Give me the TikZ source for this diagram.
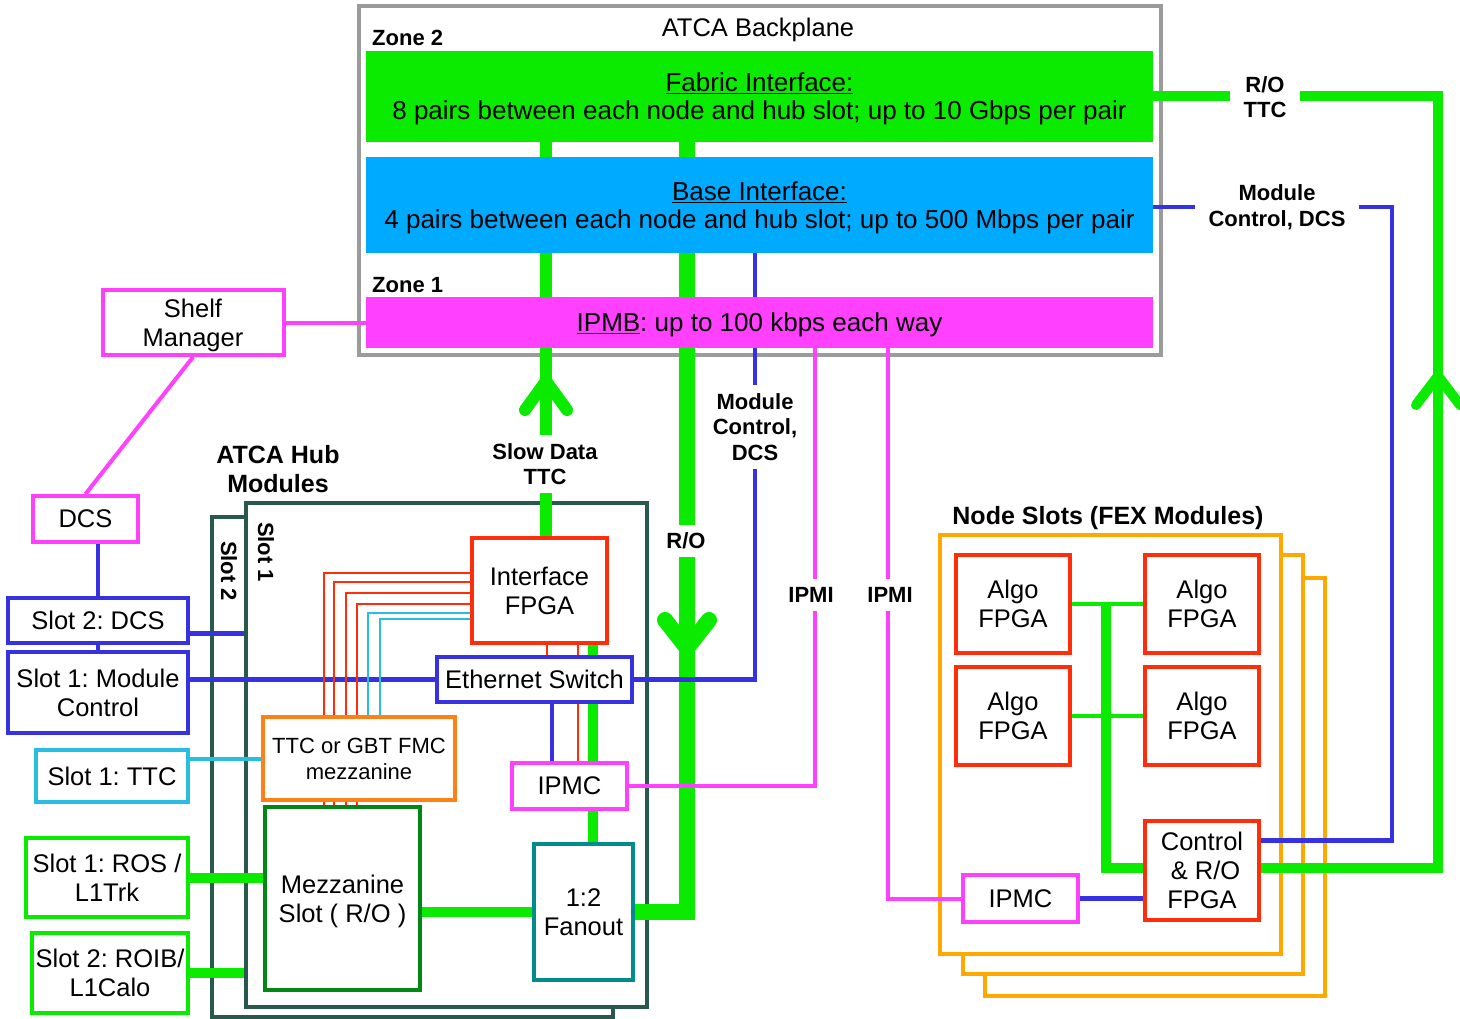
\documentclass[tikz,border=0pt]{standalone}
\usepackage{fontspec}
\setmainfont{Liberation Sans}
\usetikzlibrary{calc}
\pgfdeclarelayer{frames}
\pgfdeclarelayer{wires}
\pgfsetlayers{frames,wires,main}
\frenchspacing
\definecolor{cgreen}{RGB}{10,235,0}
\definecolor{cblue}{RGB}{55,50,225}
\definecolor{cmag}{RGB}{255,64,255}
\definecolor{cbase}{RGB}{0,170,255}
\definecolor{cred}{RGB}{255,45,10}
\definecolor{corange}{RGB}{255,128,20}
\definecolor{cnode}{RGB}{255,168,0}
\definecolor{ccyan}{RGB}{40,190,225}
\definecolor{cslot}{RGB}{40,88,78}
\definecolor{cmezz}{RGB}{0,135,20}
\definecolor{cfan}{RGB}{0,140,140}
\definecolor{cgray}{RGB}{155,155,155}
\newcommand\fReg{\fontsize{25.5}{29}\selectfont}
\newcommand\fBand{\fontsize{26}{28}\selectfont}
\newcommand\fSmall{\fontsize{22}{26}\selectfont}
\newcommand\fBold{\fontsize{25}{29}\selectfont\bfseries}
\newcommand\fBoldS{\fontsize{22}{25.5}\selectfont\bfseries}
\tikzset{
  bx/.style={draw, fill=white, line width=4pt, inner sep=0pt, align=center, font=\fReg, text depth=0pt},
  band/.style={draw=none, inner sep=0pt, align=center, font=\fBand, text depth=0pt},
  frm/.style={draw, fill=white, line width=4.5pt, inner sep=0pt},
  gw/.style={draw=cgreen, line width=10pt},
  bw/.style={draw=cblue, line width=4.5pt},
  mw/.style={draw=cmag, line width=4pt},
  rw/.style={draw=cred, line width=2pt},
  cw/.style={draw=ccyan, line width=2pt},
  chev/.style={draw=cgreen, line cap=round, line join=round},
  lbl/.style={fill=white, align=center, font=\fBoldS, inner xsep=6pt, inner ysep=8pt},
}
\begin{document}
\begin{tikzpicture}[x=1pt,y=-1pt]
\useasboundingbox (0,0) rectangle (1460,1019);

% ---------- main boxes ----------
\node[band, fill=cgreen, minimum width=787pt, minimum height=91pt] (fabric) at (759.5,96.5)
  {\underline{Fabric Interface:}\\8 pairs between each node and hub slot; up to 10 Gbps per pair};
\node[band, fill=cbase, minimum width=787pt, minimum height=96pt] (base) at (759.5,205)
  {\underline{Base Interface:}\\4 pairs between each node and hub slot; up to 500 Mbps per pair};
\node[band, fill=cmag, minimum width=787pt, minimum height=51pt] (ipmb) at (759.5,322.5)
  {\underline{IPMB}: up to 100 kbps each way};

\node[font=\fReg, text depth=0pt] (bptitle) at (758,27) {ATCA Backplane};
\node[font=\fBoldS, anchor=west, inner sep=0pt] (zone2) at (372,38) {Zone 2};
\node[font=\fBoldS, anchor=west, inner sep=0pt] (zone1) at (372,285) {Zone 1};

\node[bx, draw=cmag, minimum width=181pt, minimum height=65pt] (shelf) at (193,322.5) {Shelf\\Manager};
\node[bx, draw=cmag, minimum width=105pt, minimum height=46pt] (dcs) at (85.5,519) {DCS};
\node[bx, draw=cblue, minimum width=180pt, minimum height=45pt] (s2dcs) at (98,620.5) {Slot 2: DCS};
\node[bx, draw=cblue, minimum width=180pt, minimum height=81pt] (s1mc) at (98,692.5) {Slot 1: Module\\Control};
\node[bx, draw=ccyan, minimum width=152pt, minimum height=52pt] (s1ttc) at (112,776) {Slot 1: TTC};
\node[bx, draw=cgreen, minimum width=162pt, minimum height=79pt] (ros) at (107,877.5) {Slot 1: ROS /\\L1Trk};
\node[bx, draw=cgreen, minimum width=156pt, minimum height=80pt] (roib) at (110,973) {Slot 2: ROIB/\\L1Calo};

\node[font=\fBold, align=center] (hublbl) at (278,469) {ATCA Hub\\Modules};
\node[font=\fBold] (nodelbl) at (1108,518) {Node Slots (FEX Modules)};

% ---------- frames ----------
\begin{pgfonlayer}{frames}
\node[draw=cgray, line width=3.5pt, inner sep=0pt, minimum width=802pt, minimum height=349pt] (bp) at (760,180.5) {};
\node[frm, draw=cslot, minimum width=401pt, minimum height=500pt] (slot2) at (412.5,767) {};
\node[frm, draw=cslot, minimum width=401pt, minimum height=504pt] (slot1) at (446.5,755) {};
\node[frm, draw=cnode, minimum width=340pt, minimum height=418pt] (f3) at (1155,787) {};
\node[frm, draw=cnode, minimum width=340pt, minimum height=419pt] (f2) at (1133,764.5) {};
\node[frm, draw=cnode, minimum width=341pt, minimum height=419pt] (f1) at (1110.5,744.5) {};
\end{pgfonlayer}
\node[font=\fBoldS, rotate=-90] (slot2lbl) at (229,571) {Slot 2};
\node[font=\fBoldS, rotate=-90] (slot1lbl) at (266,552) {Slot 1};

% hub module boxes
\node[bx, draw=cred, line width=4.5pt, minimum width=135pt, minimum height=105pt] (ifpga) at (539.5,590.5) {Interface\\FPGA};
\node[bx, draw=cblue, minimum width=195pt, minimum height=45pt] (ether) at (534.5,679.5) {Ethernet Switch};
\node[bx, draw=corange, font=\fSmall, minimum width=192pt, minimum height=83pt] (ttcm) at (359,758.5) {TTC or GBT FMC\\mezzanine};
\node[bx, draw=cmag, minimum width=115pt, minimum height=46pt] (hipmc) at (569.5,786) {IPMC};
\node[bx, draw=cmezz, minimum width=155pt, minimum height=183pt] (mezz) at (342.5,898.5) {Mezzanine\\Slot ( R/O )};
\node[bx, draw=cfan, minimum width=99pt, minimum height=136pt] (fanout) at (583.5,912) {1:2\\Fanout};

% node slot boxes
\node[bx, draw=cred, line width=4.5pt, minimum width=114pt, minimum height=98pt] (a1) at (1013,604) {Algo\\FPGA};
\node[bx, draw=cred, line width=4.5pt, minimum width=114pt, minimum height=98pt] (a2) at (1202,604) {Algo\\FPGA};
\node[bx, draw=cred, line width=4.5pt, minimum width=114pt, minimum height=98pt] (a3) at (1013,716) {Algo\\FPGA};
\node[bx, draw=cred, line width=4.5pt, minimum width=114pt, minimum height=98pt] (a4) at (1202,716) {Algo\\FPGA};
\node[bx, draw=cred, line width=4.5pt, minimum width=114pt, minimum height=99pt] (ctrl) at (1202,870.5) {Control\\\ \& R/O\\FPGA};
\node[bx, draw=cmag, minimum width=115pt, minimum height=47pt] (nipmc) at (1020.5,898.5) {IPMC};

% ---------- column coordinates ----------
\coordinate (xsd) at (546,0);
\coordinate (xro) at (687,0);
\coordinate (xmc) at (755,0);
\coordinate (xip1) at (815,0);
\coordinate (xip2) at (888,0);
\coordinate (xrg) at (1438,0);
\coordinate (xrb) at (1392,0);
\coordinate (xgv) at (1106,0);
\coordinate (rx1) at (547,0);
\coordinate (rx2) at (578,0);
\coordinate (bx1) at (552,0);
\coordinate (gx1) at (593,0);
\coordinate (sdtip) at (546,381);
\coordinate (rotip) at (687,648);
\coordinate (rgtip) at (1438,376);

% ---------- wires ----------
\begin{pgfonlayer}{wires}
% slow data / TTC up
\draw[gw, line width=12pt] (ifpga.north -| xsd) -- (fabric.south -| xsd);
\draw[chev, line width=12pt] ($(sdtip)+(-21,29)$) -- (sdtip) -- ($(sdtip)+(21,29)$);
% R/O down to fanout
\draw[gw, line width=16pt] (fabric.south -| xro) -- (fanout.east -| xro) -- (fanout.east);
\draw[chev, line width=16pt] ($(rotip)+(-22,-28)$) -- (rotip) -- ($(rotip)+(22,-28)$);
% module control, DCS (hub)
\draw[bw] (base.south -| xmc) -- (ether.east -| xmc) -- (ether.east);
% IPMI lines
\draw[mw] (ipmb.south -| xip1) -- (hipmc.east -| xip1) -- (hipmc.east);
\draw[mw] (ipmb.south -| xip2) -- (nipmc.west -| xip2) -- (nipmc.west);
% right side R/O TTC
\draw[gw] (fabric.east) -- (fabric.east -| xrg) -- ([yshift=2.5pt]ctrl.east -| xrg) -- ([yshift=2.5pt]ctrl.east);
\draw[chev, line width=10pt] ($(rgtip)+(-22,29)$) -- (rgtip) -- ($(rgtip)+(22,29)$);
% right side module control
\draw[bw] ([yshift=-2pt]base.east) -- ([yshift=-2pt]base.east -| xrb) -- ([yshift=30pt]ctrl.east -| xrb) -- ([yshift=30pt]ctrl.east);
% shelf manager
\draw[mw] (shelf.east) -- (shelf.east -| ipmb.west);
\draw[mw] (shelf.south) -- (dcs.north);
\draw[bw] (s2dcs.north) -- (s2dcs.north |- dcs.south);
\draw[bw] (s2dcs.south) -- (s1mc.north);
\draw[bw] ([yshift=-13pt]s2dcs.east) -- ([yshift=-13pt]s2dcs.east -| slot1.west);
\draw[bw] (ether.west -| s1mc.east) -- (ether.west);
\draw[draw=ccyan, line width=4pt] (ttcm.west -| s1ttc.east) -- (ttcm.west);
\draw[gw] (ros.east) -- (ros.east -| mezz.west);
\draw[gw] (roib.east) -- (roib.east -| slot1.west);
\draw[gw] (fanout.west -| mezz.east) -- (fanout.west);
% red / cyan bus
\foreach \xx/\yy/\i in {324/573/1,334/582/2,346/593/3,357/604/4} {
  \coordinate (rb\i) at (\xx,\yy);
  \draw[rw] (ifpga.west |- rb\i) -- (rb\i) -- (rb\i |- ttcm.north);
  \draw[rw] (rb\i |- ttcm.south) -- (rb\i |- mezz.north);
}
\foreach \xx/\yy/\i in {368/613/1,380/619/2} {
  \coordinate (cb\i) at (\xx,\yy);
  \draw[cw] (ifpga.west |- cb\i) -- (cb\i) -- (cb\i |- ttcm.north);
}
\draw[rw] (ifpga.south -| rx1) -- (ether.north -| rx1);
\draw[rw] (ifpga.south -| rx2) -- (hipmc.north -| rx2);
\draw[bw] (ether.south -| bx1) -- (hipmc.north -| bx1);
\draw[gw] (ifpga.south -| gx1) -- (fanout.north -| gx1);
% node slot internal
\draw[gw, line width=4.5pt] (a1.east) -- (a2.west);
\draw[gw, line width=4.5pt] (a3.east) -- (a4.west);
\draw[gw] (a1.east -| xgv) -- ([yshift=2.5pt]ctrl.west -| xgv) -- ([yshift=2.5pt]ctrl.west);
\draw[bw] (nipmc.east) -- (nipmc.east -| ctrl.west);
\end{pgfonlayer}

% ---------- wire labels ----------
\node[lbl] (lsd) at (545,464) {Slow Data\\TTC};
\node[lbl] (lro) at (686,541) {R/O};
\node[lbl] (lmc) at (755,427) {Module\\Control,\\DCS};
\node[lbl] (lip1) at (811,595) {IPMI};
\node[lbl] (lip2) at (890,595) {IPMI};
\node[lbl, inner xsep=14pt] (lrt) at (1265,97) {R/O\\TTC};
\node[lbl, inner xsep=14pt] (lmc2) at (1277,207) {Module\\Control, DCS};
\end{tikzpicture}
\end{document}
